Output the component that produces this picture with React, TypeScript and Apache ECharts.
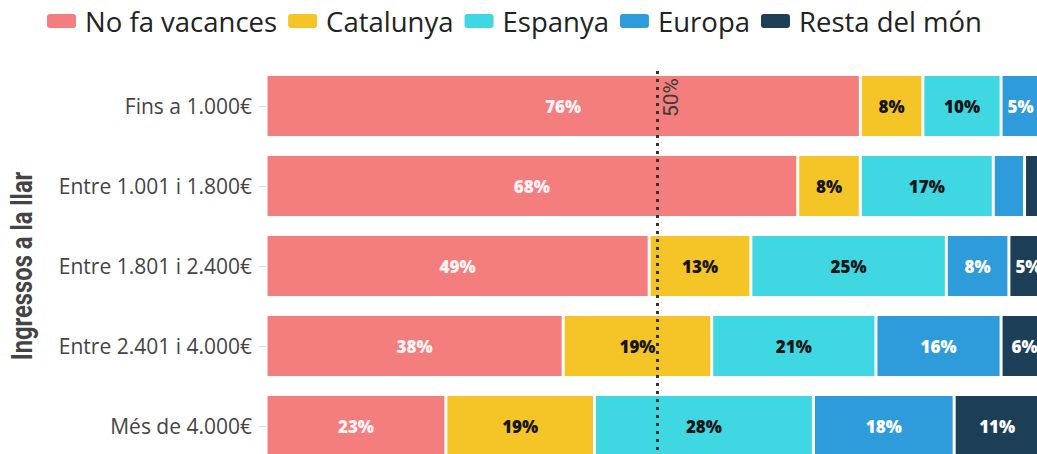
import React, { useEffect, useRef } from "react";
import * as echarts from "echarts";

const categories = [
  "Fins a 1.000€",
  "Entre 1.001 i 1.800€",
  "Entre 1.801 i 2.400€",
  "Entre 2.401 i 4.000€",
  "Més de 4.000€",
];
const seriesNames = ["No fa vacances", "Catalunya", "Espanya", "Europa", "Resta del món"];
const noFaVacances = [76, 68, 49, 38, 23];
const catalunya = [8, 8, 13, 19, 19];
const espanya = [10, 17, 25, 21, 28];
const europa = [5, 4, 8, 16, 18];
const restaDelMon = [1, 3, 5, 6, 11];
const seriesValues = [noFaVacances, catalunya, espanya, europa, restaDelMon];
const colors = ["#F47E7E", "#F5C426", "#3ED7E2", "#2E9BDA", "#1C3E56"];
const labelColors = ["#fff4f4", "#151515", "#151515", "#ffffff", "#ffffff"];
const referenceValue = 50;
const axisTitle = "Ingressos a la llar";

export default function App() {
  const ref = useRef<HTMLDivElement>(null);
  useEffect(() => {
    if (!ref.current) return;
    const chart = echarts.init(ref.current, null, { renderer: "svg" });
    // categories listed top to bottom; the axis runs bottom to top
    const cats = categories.slice().reverse();
    const series: any[] = seriesValues.map((vals, i) => ({
      name: seriesNames[i],
      type: "bar",
      stack: "total",
      barWidth: 63,
      data: vals.slice().reverse(),
      itemStyle: { color: colors[i], borderColor: "#ffffff", borderWidth: 1.5 },
      label: {
        show: true,
        position: "inside",
        color: labelColors[i],
        fontFamily: "'Open Sans'",
        fontWeight: 800,
        fontSize: 17,
        formatter: (p: any) => (p.value >= 5 ? p.value + "%" : ""),
      },
      ...(i === 0
        ? {
            markLine: {
              silent: true,
              symbol: "none",
              data: [{ xAxis: referenceValue }],
              lineStyle: { type: [3, 5], color: "#333333", width: 3 },
              label: {
                show: true,
                formatter: referenceValue + "%",
                position: "insideEndBottom",
                color: "#3a3a3a",
                fontFamily: "Roboto",
                fontSize: 21,
                distance: [12, 3],
              },
              z: 10,
            },
          }
        : {}),
    }));
    chart.setOption({
      animation: false,
      textStyle: { fontFamily: "'Open Sans'" },
      legend: {
        top: 2,
        left: 40,
        icon: "roundRect",
        itemWidth: 31,
        itemHeight: 16,
        itemGap: 9,
        textStyle: { fontSize: 27.5, color: "#222222", fontFamily: "'Open Sans'", padding: [0, 0, 0, 3] },
        data: seriesNames,
      },
      grid: { left: 266, right: -11, top: 66, bottom: -12, containLabel: false, outerBoundsMode: "none" },
      xAxis: { type: "value", min: 0, max: 100, show: false },
      yAxis: {
        type: "category",
        data: cats,
        axisLine: { show: false },
        axisTick: { show: true, alignWithLabel: true, length: 8, lineStyle: { color: "#dddddd" } },
        axisLabel: { fontSize: 21, color: "#444444", margin: 14, fontFamily: "'Open Sans'" },
      },
      graphic: [
        {
          type: "text",
          x: 22,
          y: 266,
          rotation: Math.PI / 2,
          scaleX: 0.82,
          style: {
            text: axisTitle,
            fontFamily: "Roboto",
            fontWeight: "bold",
            fontSize: 29,
            fill: "#444444",
            align: "center",
            verticalAlign: "middle",
          },
        },
      ],
      series,
    });
    return () => chart.dispose();
  }, []);
  return (
    <div
      ref={ref}
      style={{ position: "fixed", left: 0, top: 0, width: 1037, height: 454, background: "#ffffff" }}
    />
  );
}
